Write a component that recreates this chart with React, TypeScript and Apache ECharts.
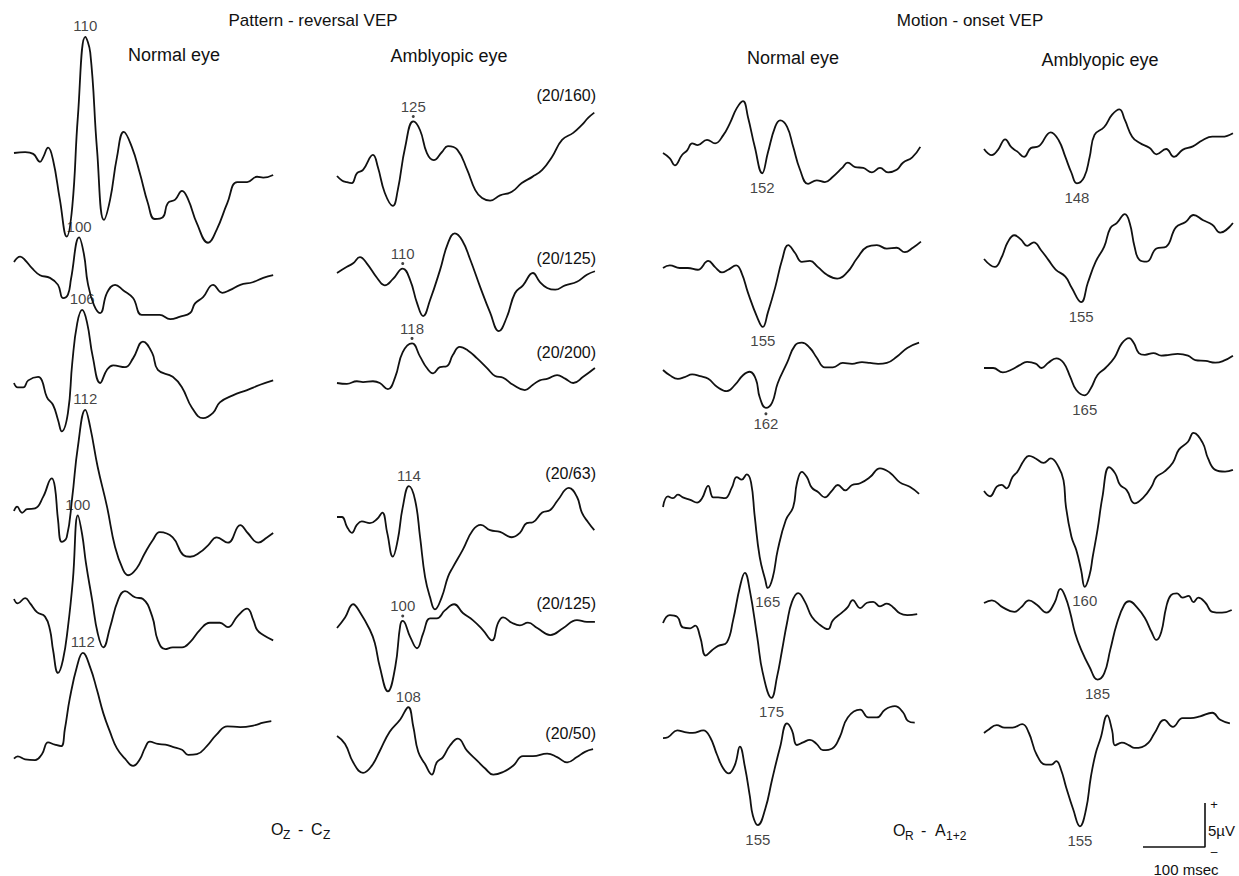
import React, { useEffect, useRef } from "react";
import * as echarts from "echarts";

type Pt = [number, number];

// Each trace: [sweep time (ms from sweep start), amplitude (µV, positive up)]

// Pattern-reversal VEP, normal eye
const prNormal1: Pt[] = [[0,0],[18,0.1],[31,-0.1],[42,-1.0],[47,-0.5],[55,0.6],[63,-0.8],[74,-5.3],[85,-9.5],[94,-6.1],[103,4.1],[115,13.2],[123,11.4],[134,0.3],[145,-7.6],[155,-5.3],[166,-0.5],[177,2.4],[190,0.7],[203,-2.3],[216,-5.7],[227,-7.5],[240,-7.3],[248,-5.7],[260,-5.3],[271,-4.3],[281,-5.3],[295,-8.0],[313,-10.2],[327,-8.7],[344,-5.7],[360,-3.3],[376,-3.3],[392,-2.7],[402,-2.8],[418,-2.5]];
const prNormal2: Pt[] = [[0,0],[10,0.6],[18,0.2],[29,-0.7],[42,-1.5],[58,-1.8],[71,-2.6],[79,-4.1],[87,-3.7],[92,-1.9],[105,2.8],[113,0.8],[119,-2.4],[129,-4.9],[139,-5.8],[150,-3.5],[163,-2.6],[176,-3.2],[192,-4.1],[206,-6.0],[224,-6.0],[235,-6.0],[252,-6.5],[268,-6.2],[284,-5.8],[292,-4.7],[305,-4.0],[321,-2.6],[336,-3.5],[348,-3.2],[365,-2.6],[385,-2.3],[402,-1.8],[418,-1.5]];
const prNormal3: Pt[] = [[0,0],[6,-0.5],[15,-0.5],[23,0.3],[39,0.7],[45,0.3],[53,-1.6],[63,-2.5],[71,-4.2],[77,-5.5],[87,-3.4],[94,2.3],[102,6.8],[110,8.3],[118,6.8],[127,3.0],[139,0],[150,1.5],[160,2.0],[179,1.8],[192,2.8],[208,4.7],[223,3.4],[232,1.5],[256,0.7],[271,-0.5],[287,-2.8],[305,-4.0],[321,-3.4],[332,-2.2],[353,-1.4],[376,-0.8],[397,-0.2],[418,0.3]];
const prNormal4: Pt[] = [[0,0],[5,0.5],[13,-0.2],[21,0.2],[34,0.3],[47,1.6],[61,3.7],[66,2.7],[71,-1.0],[77,-3.5],[85,-3.0],[94,1.6],[103,7.3],[115,11.5],[123,9.5],[135,5.0],[150,0.5],[163,-4.1],[176,-6.7],[184,-7.3],[198,-6.5],[211,-4.8],[224,-3.3],[235,-2.4],[256,-3.0],[273,-5.0],[284,-5.2],[300,-4.7],[313,-3.9],[327,-3.0],[345,-3.6],[365,-1.6],[377,-2.5],[394,-3.6],[408,-3.0],[418,-2.5]];
const prNormal5: Pt[] = [[0,0],[6,-0.5],[18,0.1],[26,-0.5],[37,-1.5],[50,-2.0],[58,-3.5],[63,-5.8],[71,-8.4],[79,-6.9],[87,-3.2],[95,2.2],[103,9.5],[110,7.3],[116,4.1],[126,-0.1],[135,-3.9],[144,-5.5],[155,-3.2],[168,-0.1],[179,0.9],[195,0.2],[208,0],[223,-2.0],[232,-4.7],[244,-5.7],[256,-5.5],[271,-5.5],[284,-4.9],[300,-3.5],[316,-2.7],[332,-2.7],[345,-3.2],[360,-2.0],[376,-1.1],[386,-2.4],[392,-3.5],[402,-4.1],[418,-4.7]];
const prNormal6: Pt[] = [[0,0],[6,0.3],[18,-0.1],[34,-0.2],[45,0.6],[55,2.2],[66,1.9],[76,1.7],[82,4.0],[90,8.2],[102,12.7],[111,14.4],[123,12.4],[134,9.3],[144,6.2],[155,3.6],[166,1.4],[179,0],[192,-1.0],[203,-0.1],[211,1.4],[219,2.3],[232,2.0],[244,1.9],[256,1.6],[271,1.2],[281,0.5],[295,0.6],[311,1.7],[327,3.3],[344,4.4],[365,4.3],[386,4.5],[402,4.9],[415,5.1]];

// Pattern-reversal VEP, amblyopic eye
const prAmbly1: Pt[] = [[0,0],[8,-0.5],[16,-0.7],[24,-0.8],[32,0.3],[42,0.7],[58,2.4],[66,1.0],[77,-1.9],[90,-3.4],[98,-1.6],[110,3.3],[123,6.2],[134,5.2],[145,2.6],[156,1.8],[169,2.7],[179,3.4],[194,3.0],[210,0.7],[223,-1.6],[234,-2.5],[247,-2.8],[263,-2.2],[282,-1.8],[298,-0.8],[315,-0.1],[331,0.7],[347,2.2],[363,4.1],[381,4.9],[395,5.8],[405,6.6],[415,7.2]];
const prAmbly2: Pt[] = [[0,0],[16,0.7],[26,1.1],[37,1.8],[48,1.1],[65,-0.6],[77,-1.4],[90,-0.7],[106,0.5],[118,-0.8],[129,-3.4],[139,-4.9],[150,-3.1],[166,0.3],[179,3.4],[190,4.5],[202,3.7],[215,1.5],[231,-1.6],[247,-4.5],[261,-6.6],[274,-5.0],[287,-2.3],[300,-1.4],[316,0],[327,-1.0],[339,-1.7],[352,-1.9],[368,-1.4],[387,-1.0],[403,-0.2],[416,0.2]];
const prAmbly3: Pt[] = [[0,0],[16,-0.1],[32,0.2],[42,0.1],[58,0.2],[69,0],[82,-0.7],[94,0.7],[106,3.5],[121,4.5],[134,3.0],[145,1.7],[155,1.1],[166,1.8],[177,1.9],[187,3.2],[198,4.1],[211,3.7],[226,2.8],[242,1.7],[255,0.8],[268,0.6],[284,-0.2],[303,-0.8],[316,-0.2],[327,0.3],[340,0.5],[355,0.9],[368,0.5],[381,0],[397,0.7],[416,1.7]];
const prAmbly4: Pt[] = [[0,0],[8,0],[16,-1.1],[24,-1.8],[32,-0.9],[40,-0.5],[53,-0.7],[65,-0.2],[73,0.5],[81,-1.8],[90,-4.5],[98,-2.6],[106,1.1],[116,3.5],[126,1.9],[134,-2.3],[142,-6.8],[150,-9.1],[158,-10.5],[169,-9.1],[179,-6.8],[187,-5.7],[203,-3.7],[219,-1.5],[232,-0.9],[247,-1.5],[263,-1.7],[282,-2.3],[295,-1.8],[306,-0.7],[316,-0.6],[331,0.5],[344,0.8],[356,1.9],[374,3.3],[387,2.3],[395,0.5],[405,-0.6],[415,-1.5]];
const prAmbly5: Pt[] = [[0,0],[13,1.2],[26,2.7],[37,1.8],[53,-0.2],[61,-1.7],[69,-4.4],[82,-7.2],[94,-4.4],[102,0.3],[106,0.8],[118,-1.0],[129,-2.3],[139,-0.6],[150,1.1],[161,1.1],[174,2.0],[189,2.7],[203,1.7],[219,0.9],[235,-0.2],[250,-1.4],[260,0.6],[268,1.2],[282,0.6],[295,0.3],[308,0.6],[323,0],[344,-0.8],[365,0],[387,0.9],[403,0.7],[416,0.7]];
const prAmbly6: Pt[] = [[0,0],[13,-0.9],[26,-3.0],[42,-4.2],[56,-3.4],[69,-1.7],[85,0.5],[102,1.9],[115,3.3],[123,1.1],[131,-1.8],[142,-3.2],[153,-4.4],[161,-3.0],[171,-2.4],[182,-1.1],[195,-0.3],[210,-1.7],[226,-2.8],[239,-3.7],[252,-4.4],[268,-4.1],[284,-3.4],[300,-2.3],[316,-2.3],[339,-2.0],[355,-2.4],[371,-3.0],[387,-2.4],[400,-1.8],[413,-1.5]];

// Motion-onset VEP, normal eye
const moNormal1: Pt[] = [[0,0],[11,-0.6],[19,-1.4],[31,-0.2],[39,0.3],[47,1.1],[56,0.9],[71,1.5],[84,1.1],[97,2.0],[108,3.4],[119,5.1],[129,5.9],[137,4.1],[148,0.7],[160,-2.3],[169,0],[181,3.0],[189,3.7],[200,3.0],[210,0.7],[221,-1.9],[234,-3.5],[248,-3.1],[261,-3.3],[274,-2.7],[289,-1.7],[298,-1.1],[310,-1.6],[323,-1.7],[337,-2.2],[350,-1.7],[363,-2.2],[377,-1.9],[387,-1.1],[402,-0.5],[415,0.7]];
const moNormal2: Pt[] = [[0,0],[11,0.3],[27,0],[40,0],[56,-0.2],[73,0.8],[84,0.1],[95,-0.5],[105,-0.2],[118,0.3],[127,-0.6],[137,-2.8],[152,-5.6],[161,-6.7],[169,-5.1],[181,-2.2],[192,0.9],[202,2.6],[213,1.7],[224,0.7],[237,0.8],[250,0.1],[265,-0.8],[281,-1.2],[297,-0.5],[313,1.1],[329,2.4],[345,2.6],[361,2.2],[377,2.3],[390,1.8],[403,2.3],[416,3.0]];
const moNormal3: Pt[] = [[0,0],[11,-0.6],[24,-1.0],[35,-0.8],[47,-0.5],[60,-0.7],[73,-1.0],[87,-1.9],[103,-2.4],[116,-1.7],[129,-0.6],[140,-0.2],[150,-1.1],[156,-3.1],[166,-4.3],[176,-3.7],[185,-1.5],[200,0.8],[213,2.8],[224,3.1],[237,2.5],[248,1.4],[261,0.3],[274,0.3],[290,0.8],[305,0.7],[321,0.9],[334,0.8],[347,0.7],[361,0.8],[377,1.5],[394,2.5],[413,3.1]];
const moNormal4: Pt[] = [[0,0],[8,1.2],[16,1.0],[24,1.4],[32,1.1],[44,0.8],[55,0.5],[63,1.0],[73,2.4],[81,1.1],[89,1.1],[100,1.0],[111,2.2],[119,3.4],[127,3.1],[135,3.7],[142,2.8],[148,-1.1],[156,-5.7],[165,-8.3],[169,-9.2],[177,-8.0],[185,-4.9],[198,-1.5],[210,0],[216,2.7],[224,4.0],[232,3.4],[240,2.2],[250,1.7],[261,1.1],[273,1.9],[282,2.5],[294,1.9],[305,2.5],[318,2.7],[334,3.4],[350,4.4],[366,3.9],[382,2.8],[398,2.3],[413,1.5]];
const moNormal5: Pt[] = [[0,0],[11,0.9],[23,0.7],[32,-0.5],[44,-0.6],[52,-0.3],[60,-1.6],[69,-3.7],[79,-3.1],[89,-2.6],[103,-2.2],[113,0.3],[124,4.1],[132,5.7],[140,3.7],[152,-1.6],[161,-5.7],[175,-8.5],[184,-6.1],[192,-3.1],[200,0],[208,2.4],[218,3.4],[229,2.4],[240,0.7],[253,-0.2],[266,-0.7],[274,0.3],[289,1.2],[298,1.8],[306,2.6],[318,1.7],[329,2.3],[339,2.4],[350,1.9],[361,2.2],[371,1.8],[382,1.1],[394,0.9],[410,1.0]];
const moNormal6: Pt[] = [[0,0],[8,0.1],[23,0.9],[35,0.7],[48,0.6],[65,0.9],[76,0.1],[87,-1.9],[97,-3.5],[106,-4.1],[116,-3.1],[124,-1.0],[132,-3.3],[140,-6.7],[145,-9.0],[153,-10.1],[165,-8.2],[176,-4.8],[189,-1.0],[200,1.7],[208,0.9],[216,-0.8],[226,-0.5],[237,-0.2],[248,-0.7],[258,-1.4],[273,-1.2],[285,0.1],[298,2.4],[318,3.3],[331,2.4],[345,2.4],[358,3.3],[374,3.7],[387,3.0],[395,2.0],[406,1.8]];

// Motion-onset VEP, amblyopic eye
const moAmbly1: Pt[] = [[0,0],[13,-0.7],[23,-0.1],[35,1.1],[45,0.2],[55,-0.3],[66,-0.9],[77,0.1],[90,0.3],[110,1.9],[123,1.0],[134,-0.9],[144,-2.7],[153,-3.9],[165,-3.2],[174,-0.9],[182,1.6],[198,2.5],[211,3.9],[223,4.5],[232,3.3],[244,1.4],[256,0.7],[273,0.1],[284,-0.6],[300,0],[313,-0.9],[327,-0.1],[344,0.3],[360,1.0],[376,1.4],[392,1.4],[410,1.8]];
const moAmbly2: Pt[] = [[0,0],[18,-0.9],[29,0.2],[39,1.9],[50,2.7],[61,2.2],[71,1.5],[82,1.9],[94,1.0],[106,-0.1],[118,-1.2],[134,-2.0],[144,-3.2],[160,-4.9],[171,-2.7],[184,-0.3],[198,1.4],[208,3.5],[219,4.1],[232,5.1],[240,4.1],[248,1.4],[256,-0.1],[268,-0.3],[284,1.2],[300,1.4],[316,3.6],[332,4.2],[345,5.0],[361,4.4],[376,3.9],[389,3.0],[410,4.1]];
const moAmbly3: Pt[] = [[0,0],[15,0],[31,-0.5],[45,-0.2],[58,0.3],[71,0.7],[85,0.5],[95,0],[106,0.6],[119,1.1],[131,0.6],[142,-1.0],[152,-2.5],[166,-3.1],[176,-2.3],[187,-0.8],[200,0],[215,1.2],[227,2.8],[239,3.4],[247,2.8],[255,1.7],[265,1.5],[279,1.7],[292,1.4],[305,1.5],[319,1.6],[336,1.4],[348,0.9],[365,0.8],[381,0.6],[394,0.8],[410,1.4]];
const moAmbly4: Pt[] = [[0,0],[10,-0.6],[21,0.5],[29,0.7],[37,0.3],[47,1.6],[55,2.2],[66,3.5],[74,4.0],[85,3.7],[98,3.2],[110,3.7],[123,2.7],[131,1.2],[135,-1.8],[144,-5.2],[152,-6.7],[160,-9.0],[166,-10.9],[174,-9.5],[179,-7.5],[187,-4.4],[195,-0.7],[206,2.7],[216,2.0],[224,0.7],[235,0.1],[248,-1.4],[263,-0.7],[276,0.5],[284,1.6],[297,2.2],[311,3.2],[321,4.7],[336,5.6],[345,6.6],[360,5.5],[369,3.7],[381,2.4],[397,2.2],[410,2.4]];
const moAmbly5: Pt[] = [[0,0],[13,0.3],[31,-0.5],[50,-1.0],[61,-0.5],[74,0.3],[87,-0.2],[103,-1.1],[116,0],[126,1.6],[134,0.7],[142,-1.1],[150,-3.4],[160,-5.3],[174,-7.3],[187,-8.7],[198,-8.0],[208,-5.3],[219,-2.3],[231,-0.2],[239,0.2],[252,-0.5],[265,-1.7],[276,-3.3],[284,-4.2],[292,-3.3],[300,-0.5],[308,0.9],[318,1.1],[327,0.6],[337,0.8],[345,0.1],[353,0.6],[365,0],[376,-1.0],[392,-1.1],[408,-0.8]];
const moAmbly6: Pt[] = [[0,0],[6,0.3],[21,0.9],[34,0.6],[47,0.6],[63,1.0],[74,0],[87,-2.5],[102,-3.6],[111,-3.6],[119,-3.2],[127,-4.2],[135,-6.1],[147,-8.7],[158,-10.6],[168,-8.7],[176,-5.0],[184,-2.3],[192,-0.6],[203,2.0],[211,0.3],[216,-1.4],[227,-1.1],[239,-1.4],[248,-1.7],[260,-1.6],[271,-1.1],[281,0],[297,1.5],[311,0.7],[327,1.7],[340,1.7],[356,1.9],[376,2.3],[389,1.5],[405,1.1]];

const traces: Pt[][][] = [
  [prNormal1, prNormal2, prNormal3, prNormal4, prNormal5, prNormal6],
  [prAmbly1, prAmbly2, prAmbly3, prAmbly4, prAmbly5, prAmbly6],
  [moNormal1, moNormal2, moNormal3, moNormal4, moNormal5, moNormal6],
  [moAmbly1, moAmbly2, moAmbly3, moAmbly4, moAmbly5, moAmbly6],
];

// Labelled peak latencies (ms after stimulus)
const latencies = [
  [110, 100, 106, 112, 100, 112],
  [125, 110, 118, 114, 100, 108],
  [152, 155, 162, 165, 175, 155],
  [148, 155, 165, 160, 185, 155],
];
// Pre-stimulus part of each sweep (ms)
const leads = [
  [5, 5, 4, 3, 3, -1],
  [-2, -4, 3, 2, 6, 7],
  [8, 6, 4, 4, 0, -2],
  [5, 5, 1, 6, 2, 3],
];
// Latency marks drawn with a small tick dot
const dotted = [
  [false, false, false, false, false, false],
  [true, true, true, false, true, false],
  [false, false, true, false, false, false],
  [false, false, false, false, false, false],
];
const acuity = ["(20/160)", "(20/125)", "(20/200)", "(20/63)", "(20/125)", "(20/50)"];
const headings = ["Normal eye", "Amblyopic eye", "Normal eye", "Amblyopic eye"];
const titles = ["Pattern - reversal VEP", "Motion - onset VEP"];

// Layout (pixels)
const PX_PER_MS = 0.62;
const PX_PER_UV = 8.8;
const SWEEP_MS = 420;
const Y_RANGE = 16;
const columnLeft = [14, 337, 663, 984];
const baselineY = [
  [153, 262, 383, 511, 599, 782],
  [176, 273, 383, 517, 628, 737],
  [153, 268, 370, 507, 623, 741],
  [149, 259, 368, 491, 603, 733],
];
const acuityY = [95, 258, 352, 473, 603, 733];
const headingPos: [number, number][] = [[174, 55], [449, 56], [793, 58], [1100, 60]];
const titlePos: [number, number][] = [[313, 20], [970, 20]];

const FONT = '"Liberation Sans", "DejaVu Sans", Arial, sans-serif';
const INK = "#111";

function buildOption() {
  const grid: any[] = [];
  const xAxis: any[] = [];
  const yAxis: any[] = [];
  const series: any[] = [];

  traces.forEach((col, c) => {
    col.forEach((pts, r) => {
      const i = grid.length;
      const lead = leads[c][r];
      const lat = latencies[c][r];
      const y0 = baselineY[c][r];
      grid.push({
        left: columnLeft[c],
        top: y0 - Y_RANGE * PX_PER_UV,
        width: SWEEP_MS * PX_PER_MS,
        height: 2 * Y_RANGE * PX_PER_UV,
        containLabel: false,
      });
      xAxis.push({ gridIndex: i, type: "value", min: -lead, max: SWEEP_MS - lead, show: false });
      yAxis.push({ gridIndex: i, type: "value", min: -Y_RANGE, max: Y_RANGE, show: false });
      series.push({
        type: "line",
        xAxisIndex: i,
        yAxisIndex: i,
        data: pts.map(([t, v]) => [t - lead, v]),
        smooth: 0.45,
        symbol: "none",
        showSymbol: false,
        clip: false,
        silent: true,
        lineStyle: { color: INK, width: 1.8 },
      });
      const peak = pts.find(([t]) => Math.abs(t - lead - lat) < 0.5);
      if (peak) {
        const isTrough = c >= 2;
        const dot = dotted[c][r];
        series.push({
          type: "scatter",
          xAxisIndex: i,
          yAxisIndex: i,
          data: [[peak[0] - lead, peak[1]]],
          symbol: "circle",
          symbolSize: dot ? 3 : 1,
          symbolOffset: dot ? [0, isTrough ? 6 : -5] : [0, 0],
          silent: true,
          itemStyle: { color: dot ? INK : "rgba(0,0,0,0)" },
          label: {
            show: true,
            position: isTrough ? "bottom" : "top",
            distance: dot ? 1 : isTrough ? 6 : 3,
            color: INK,
            fontFamily: FONT,
            fontSize: 15,
            formatter: (p: any) => String(Math.round(p.value[0])),
          },
        });
      }
    });
  });

  // Calibration bar: 100 msec and 5 µV on the same scales as the traces
  const s = grid.length;
  grid.push({ left: 1143, top: 847 - 5 * PX_PER_UV, width: 100 * PX_PER_MS, height: 5 * PX_PER_UV });
  xAxis.push({ gridIndex: s, type: "value", min: 0, max: 100, show: false });
  yAxis.push({ gridIndex: s, type: "value", min: 0, max: 5, show: false });
  series.push({
    type: "line",
    xAxisIndex: s,
    yAxisIndex: s,
    data: [[0, 0], [100, 0], [100, 5]],
    symbol: "none",
    clip: false,
    silent: true,
    lineStyle: { color: INK, width: 1.6 },
  });

  const text = (t: string, x: number, y: number, size: number, align = "center") => ({
    type: "text",
    x,
    y,
    silent: true,
    style: {
      text: t,
      fill: INK,
      font: `${size}px ${FONT}`,
      textAlign: align,
      textVerticalAlign: "middle",
      align,
      verticalAlign: "middle",
    },
  });

  const graphic: any[] = [];
  titles.forEach((t, k) => graphic.push(text(t, titlePos[k][0], titlePos[k][1], 17)));
  headings.forEach((h, k) => graphic.push(text(h, headingPos[k][0], headingPos[k][1], 18)));
  acuity.forEach((a, k) => graphic.push(text(a, 596, acuityY[k], 16, "right")));

  // Electrode derivations with subscripts
  graphic.push(text("O", 271, 829, 16, "left"));
  graphic.push(text("Z", 283, 835, 12, "left"));
  graphic.push(text("-", 298, 829, 16, "left"));
  graphic.push(text("C", 311, 829, 16, "left"));
  graphic.push(text("Z", 323, 835, 12, "left"));
  graphic.push(text("O", 893, 830, 16, "left"));
  graphic.push(text("R", 905, 836, 12, "left"));
  graphic.push(text("-", 921, 830, 16, "left"));
  graphic.push(text("A", 935, 830, 16, "left"));
  graphic.push(text("1+2", 946, 836, 12, "left"));

  // Calibration bar annotations
  graphic.push(text("+", 1214, 804, 13, "center"));
  graphic.push(text("5µV", 1208, 830, 15, "left"));
  graphic.push(text("–", 1214, 852, 12, "center"));
  graphic.push(text("100 msec", 1186, 869, 15, "center"));

  return {
    animation: false,
    backgroundColor: "#fff",
    grid,
    xAxis,
    yAxis,
    series,
    graphic,
  };
}

export default function App() {
  const ref = useRef<HTMLDivElement>(null);
  useEffect(() => {
    document.body.style.margin = "0";
    const chart = echarts.init(ref.current!, undefined, { renderer: "svg" });
    chart.setOption(buildOption() as any);
    return () => chart.dispose();
  }, []);
  return <div ref={ref} style={{ width: 1239, height: 876, background: "#fff" }} />;
}
